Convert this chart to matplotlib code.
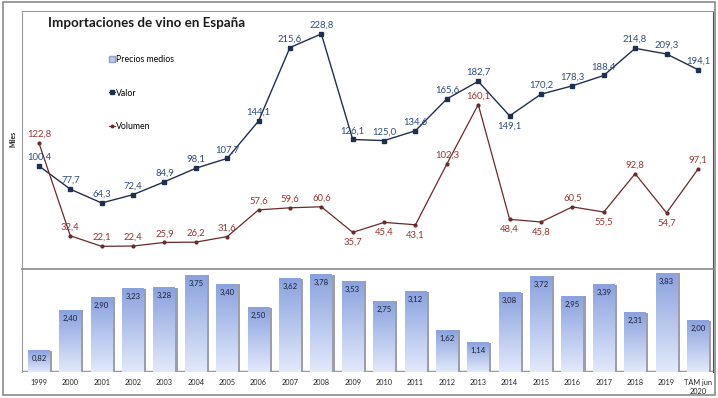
import numpy as np
import matplotlib.pyplot as plt
from matplotlib.patches import Patch, Rectangle
from matplotlib.lines import Line2D

plt.rcParams['font.family'] = ['Lato', 'DejaVu Sans']

# Data
years = ['1999', '2000', '2001', '2002', '2003', '2004', '2005', '2006', '2007', '2008',
         '2009', '2010', '2011', '2012', '2013', '2014', '2015', '2016', '2017', '2018',
         '2019', 'TAM jun\n2020']
valor = [100.4, 77.7, 64.3, 72.4, 84.9, 98.1, 107.7, 144.1, 215.6, 228.8, 126.1, 125.0,
         134.6, 165.6, 182.7, 149.1, 170.2, 178.3, 188.4, 214.8, 209.3, 194.1]
volumen = [122.8, 32.4, 22.1, 22.4, 25.9, 26.2, 31.6, 57.6, 59.6, 60.6, 35.7, 45.4,
           43.1, 102.3, 160.1, 48.4, 45.8, 60.5, 55.5, 92.8, 54.7, 97.1]
precios = [0.82, 2.40, 2.90, 3.23, 3.28, 3.75, 3.40, 2.50, 3.62, 3.78, 3.53, 2.75,
           3.12, 1.62, 1.14, 3.08, 3.72, 2.95, 3.39, 2.31, 3.83, 2.00]
# labels drawn under the point for these volumen values
vol_below = {35.7, 45.4, 43.1, 48.4, 45.8, 55.5, 54.7}

x = np.arange(len(years))
c_valor = '#1F2F4F'
c_valor_txt = '#2E4A7D'
c_vol = '#6B2A2A'
c_vol_txt = '#943634'

fig = plt.figure(figsize=(7.18, 3.98), dpi=100)
ax = fig.add_axes([0.0306, 0.324, 0.9624, 0.648])
axb = fig.add_axes([0.0306, 0.0653, 0.9624, 0.2587])

# outer frame
fig.patches.append(Rectangle((0.004, 0.007), 0.992, 0.988, transform=fig.transFigure,
                             fill=False, edgecolor='#8a8a8a', lw=1.2))

# upper panel: lines
ax.plot(x, valor, color=c_valor, lw=1, marker='s', ms=3.5, label='Valor')
ax.plot(x, volumen, color=c_vol, lw=0.9, marker='o', ms=2, label='Volumen')
for xi, v in zip(x, valor):
    yoff, va = (-4, 'top') if v == 149.1 else (3, 'bottom')
    ax.annotate(f'{v:.1f}'.replace('.', ','), (xi, v), xytext=(0, yoff),
                textcoords='offset points', ha='center', va=va, fontsize=6.8,
                color=c_valor_txt)
for xi, v in zip(x, volumen):
    yoff, va = (-4, 'top') if v in vol_below else (3, 'bottom')
    ax.annotate(f'{v:.1f}'.replace('.', ','), (xi, v), xytext=(0, yoff),
                textcoords='offset points', ha='center', va=va, fontsize=6.8,
                color=c_vol_txt)

ax.set_xlim(-0.54, 21.48)
ax.set_ylim(0, 251)
ax.set_xticks([])
ax.set_yticks([])
for s in ['left', 'top']:
    ax.spines[s].set_color('#9a9a9a')
ax.spines['bottom'].set_visible(False)
ax.spines['right'].set_color('#555555')

ax.text(0.038, 0.955, 'Importaciones de vino en España', transform=ax.transAxes,
        fontsize=9.6, weight='bold', color='#1a1a1a', va='center', ha='left')

handles = [Patch(facecolor='#b8c8ee', edgecolor='#8ea0cc', label='Precios medios'),
           Line2D([], [], color=c_valor, marker='s', ms=3, lw=0.8, label='Valor'),
           Line2D([], [], color=c_vol, marker='o', ms=1.8, lw=0.8, label='Volumen')]
ax.legend(handles=handles, loc='upper left', bbox_to_anchor=(0.119, 0.845),
          frameon=False, fontsize=6.3, labelspacing=2.75, handlelength=0.7,
          handletextpad=0.15, borderpad=0, handleheight=0.7)

# lower panel: bars with gradient
w = 0.7
grad = np.linspace(0, 1, 100).reshape(-1, 1)
cmap = plt.matplotlib.colors.LinearSegmentedColormap.from_list(
    'g', ['#e2e9fb', '#8aa2de'])
axb.bar(x + 0.07, precios, width=w, color='#9c9fab', zorder=1)
bars = axb.bar(x, precios, width=w, color='none', zorder=2)
for b, v in zip(bars, precios):
    x0 = b.get_x()
    axb.imshow(grad, extent=[x0, x0 + w, 0, v], origin='lower', aspect='auto',
               cmap=cmap, vmin=0, vmax=1, zorder=2)
    axb.text(x0 + w / 2, v - 0.17, f'{v:.2f}'.replace('.', ','), ha='center',
             va='top', fontsize=5.6, color='#1a1f33', zorder=3)
axb.axhline(0, color='#9a9a9a', lw=2.5, zorder=1.5)

axb.set_xlim(-0.54, 21.48)
axb.set_ylim(0, 4)
axb.set_yticks([])
axb.set_xticks(x)
axb.set_xticklabels(years, fontsize=5.3, color='#222222', linespacing=1.4)
axb.tick_params(axis='x', length=0, pad=5)
axb.spines['top'].set_color('#8a8a8a')
axb.spines['top'].set_linewidth(1.2)
axb.spines['bottom'].set_visible(False)
axb.spines['left'].set_color('#9a9a9a')
axb.spines['right'].set_color('#555555')

fig.text(0.018, 0.65, 'Miles', rotation=90, fontsize=4.8, weight='bold',
         ha='center', va='center', color='#222222')

plt.savefig('out.png', dpi=100)
